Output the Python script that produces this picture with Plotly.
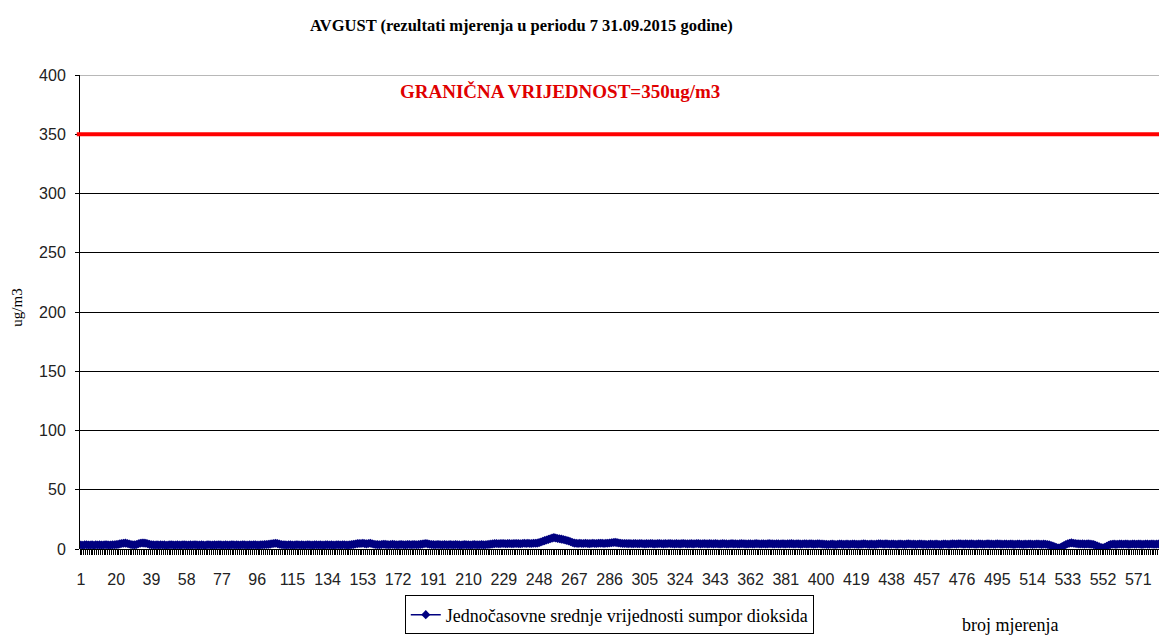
import plotly.graph_objects as go

title_text = "AVGUST (rezultati mjerenja u periodu 7 31.09.2015 godine)"
series_name = "Jednočasovne srednje vrijednosti sumpor dioksida"
limit_value = 350
limit_label = "GRANIČNA VRIJEDNOST=350ug/m3"
y_title = "ug/m3"
x_title = "broj mjerenja"

so2_values = [
    3.4, 3.2, 3.5, 3.6, 3.3, 3.4, 3.5, 3.2, 3.6, 3.4, 3.5, 3.3, 3.4, 3.6, 3.5, 3.3, 3.4, 3.5, 3.6, 3.7,
    3.9, 4.3, 4.6, 4.8, 5.0, 4.7, 4.2, 3.8, 3.6, 3.5, 3.8, 4.4, 4.9, 5.1, 5.0, 4.8, 4.4, 3.9, 3.6, 3.5,
    3.4, 3.5, 3.3, 3.6, 3.4, 3.5, 3.2, 3.4, 3.5, 3.6, 3.3, 3.4, 3.5, 3.4, 3.3, 3.6, 3.5, 3.4, 3.3, 3.5,
    3.4, 3.6, 3.5, 3.3, 3.4, 3.5, 3.4, 3.2, 3.5, 3.6, 3.4, 3.3, 3.5, 3.4, 3.6, 3.5, 3.3, 3.4, 3.5, 3.4,
    3.3, 3.5, 3.6, 3.4, 3.5, 3.3, 3.4, 3.6, 3.5, 3.4, 3.3, 3.5, 3.4, 3.6, 3.5, 3.4, 3.3, 3.5, 3.6, 3.7,
    3.8, 3.9, 4.1, 4.4, 4.6, 4.8, 4.5, 4.1, 3.8, 3.6, 3.5, 3.4, 3.6, 3.5, 3.3, 3.4, 3.5, 3.6, 3.4, 3.5,
    3.3, 3.4, 3.6, 3.5, 3.4, 3.3, 3.5, 3.6, 3.4, 3.5, 3.4, 3.3, 3.5, 3.6, 3.4, 3.5, 3.3, 3.4, 3.6, 3.5,
    3.4, 3.5, 3.6, 3.4, 3.3, 3.5, 3.7, 3.9, 4.2, 4.5, 4.7, 4.6, 4.8, 4.5, 4.3, 4.6, 4.8, 4.4, 4.0, 3.8,
    3.7, 3.6, 3.8, 4.0, 3.9, 3.7, 3.6, 3.8, 3.9, 3.7, 3.6, 3.5, 3.7, 3.8, 3.6, 3.5, 3.7, 3.8, 3.6, 3.7,
    3.8, 3.6, 3.7, 3.9, 4.1, 4.4, 4.6, 4.3, 4.0, 3.8, 3.7, 3.6, 3.8, 3.7, 3.6, 3.5, 3.7, 3.6, 3.5, 3.7,
    3.6, 3.5, 3.7, 3.6, 3.5, 3.4, 3.6, 3.7, 3.5, 3.6, 3.4, 3.5, 3.7, 3.6, 3.5, 3.6, 3.7, 3.5, 3.6, 3.8,
    3.9, 4.1, 4.3, 4.5, 4.6, 4.4, 4.5, 4.7, 4.6, 4.4, 4.5, 4.6, 4.4, 4.5, 4.7, 4.6, 4.5, 4.4, 4.6, 4.8,
    4.7, 4.8, 4.6, 4.7, 4.9, 4.8, 5.0, 5.4, 5.9, 6.5, 7.1, 7.6, 8.1, 8.6, 9.2, 9.6, 9.3, 8.9, 8.6, 8.3,
    8.0, 7.6, 7.2, 6.7, 6.1, 5.5, 5.0, 4.8, 4.7, 4.8, 4.6, 4.7, 4.8, 4.6, 4.5, 4.7, 4.8, 4.6, 4.7, 4.9,
    4.8, 4.9, 4.7, 4.8, 4.9, 5.1, 5.3, 5.5, 5.6, 5.4, 5.1, 4.9, 4.7, 4.6, 4.7, 4.5, 4.6, 4.4, 4.5, 4.6,
    4.4, 4.5, 4.6, 4.4, 4.3, 4.5, 4.4, 4.6, 4.5, 4.3, 4.4, 4.5, 4.6, 4.4, 4.3, 4.5, 4.4, 4.6, 4.5, 4.4,
    4.3, 4.5, 4.4, 4.3, 4.5, 4.6, 4.4, 4.3, 4.4, 4.5, 4.3, 4.4, 4.6, 4.5, 4.3, 4.4, 4.5, 4.4, 4.3, 4.5,
    4.4, 4.3, 4.5, 4.4, 4.2, 4.3, 4.5, 4.4, 4.3, 4.2, 4.4, 4.5, 4.3, 4.4, 4.2, 4.3, 4.5, 4.4, 4.3, 4.2,
    4.3, 4.4, 4.2, 4.3, 4.5, 4.4, 4.2, 4.3, 4.4, 4.2, 4.3, 4.5, 4.4, 4.3, 4.2, 4.4, 4.3, 4.2, 4.4, 4.3,
    4.2, 4.4, 4.3, 4.5, 4.3, 4.2, 4.4, 4.3, 4.1, 4.2, 4.4, 4.3, 4.2, 4.4, 4.3, 4.1, 4.2, 4.3, 4.4, 4.2,
    4.1, 4.0, 3.9, 3.8, 4.0, 4.1, 3.9, 3.8, 4.0, 4.2, 4.1, 3.9, 4.0, 4.1, 3.9, 4.0, 4.2, 4.1, 4.0, 3.9,
    4.0, 4.1, 4.3, 4.2, 4.0, 3.9, 4.1, 4.0, 3.9, 4.1, 4.3, 4.4, 4.2, 4.1, 4.3, 4.2, 4.0, 4.1, 4.2, 4.0,
    3.9, 4.1, 4.2, 4.0, 3.9, 4.1, 4.3, 4.2, 4.0, 4.1, 3.9, 4.0, 4.2, 4.1, 3.9, 4.0, 3.8, 3.9, 4.1, 4.0,
    3.9, 4.1, 4.0, 3.8, 3.9, 4.1, 4.2, 4.0, 3.9, 4.1, 4.3, 4.2, 4.1, 4.3, 4.4, 4.2, 4.1, 4.3, 4.2, 4.1,
    4.3, 4.2, 4.0, 4.1, 4.3, 4.2, 4.1, 4.0, 4.2, 4.3, 4.1, 4.2, 4.0, 4.1, 4.3, 4.2, 4.1, 4.0, 4.2, 4.1,
    4.0, 4.2, 4.1, 3.9, 4.0, 4.2, 4.1, 4.0, 3.9, 4.1, 4.0, 4.2, 4.1, 3.9, 4.0, 4.1, 4.2, 4.0, 3.9, 4.1,
    4.0, 3.8, 3.5, 3.0, 2.4, 1.8, 1.2, 0.9, 1.3, 2.0, 2.9, 3.8, 4.4, 4.8, 5.2, 4.9, 4.6, 4.4, 4.3, 4.2,
    4.3, 4.1, 4.2, 4.3, 4.1, 4.0, 3.7, 3.2, 2.5, 1.8, 1.2, 1.0, 1.5, 2.3, 3.1, 3.7, 4.0, 4.1, 3.9, 4.0,
    4.2, 4.1, 4.0, 4.2, 4.1, 3.9, 4.0, 4.2, 4.1, 4.0, 4.2, 4.1, 3.9, 4.0, 4.2, 4.1, 4.0, 4.2, 4.1, 4.0,
    4.1, 4.2,
]
measurement_no = list(range(1, len(so2_values) + 1))
x_tick_labels = list(range(1, len(so2_values) + 1, 19))
y_ticks = [0, 50, 100, 150, 200, 250, 300, 350, 400]

fig = go.Figure()

fig.add_trace(go.Scatter(
    x=measurement_no, y=so2_values, mode="lines+markers", name=series_name,
    line=dict(color="#000080", width=1.5),
    marker=dict(symbol="diamond", size=7, color="#000080"),
    cliponaxis=True,
))

# limit line
fig.add_shape(type="line", xref="paper", yref="y", x0=-0.003, x1=1, y0=limit_value, y1=limit_value,
              line=dict(color="#ff0000", width=4), layer="above")
# top border line (gray)
fig.add_shape(type="line", xref="paper", yref="y", x0=0, x1=1, y0=400, y1=400,
              line=dict(color="#a0a0a0", width=1.5), layer="below")

serif = "Liberation Serif, Times New Roman, serif"
sans = "Liberation Sans, Arial, sans-serif"

fig.add_annotation(text=f"<b>{limit_label}</b>", xref="paper", yref="paper", x=0.445, y=0.966,
                   xanchor="center", yanchor="middle",
                   showarrow=False, font=dict(family=serif, size=19, color="#e00000"))
fig.add_annotation(text=f"<b>{title_text}</b>", xref="paper", yref="paper", x=0.409, y=1.105,
                   xanchor="center", yanchor="middle",
                   showarrow=False, font=dict(family=serif, size=16.5, color="#000000"))
fig.add_annotation(text=y_title, xref="paper", yref="paper", x=-0.058, y=0.51, textangle=-90,
                   xanchor="center", yanchor="middle",
                   showarrow=False, font=dict(family=serif, size=15, color="#000000"))
fig.add_annotation(text=x_title, xref="paper", yref="paper", x=0.862, y=-0.16,
                   xanchor="center", yanchor="middle",
                   showarrow=False, font=dict(family=serif, size=18, color="#000000"))

fig.update_layout(
    width=1159, height=636,
    margin=dict(l=80, r=0, t=75, b=87, autoexpand=False),
    paper_bgcolor="white", plot_bgcolor="white",
    showlegend=True,
    legend=dict(x=0.301, y=-0.098, xanchor="left", yanchor="top",
                bordercolor="#000000", borderwidth=1, bgcolor="white",
                font=dict(family=serif, size=18, color="#000000"),
                itemwidth=30, tracegroupgap=0),
    xaxis=dict(
        range=[0.5, 582.2], tickmode="array", tickvals=x_tick_labels,
        ticktext=[str(v) for v in x_tick_labels], automargin=False,
        ticks="outside", ticklen=16, tickcolor="rgba(0,0,0,0)",
        showgrid=False, zeroline=False, showline=False,
        tickfont=dict(family=sans, size=16, color="#222222"),
        minor=dict(tickmode="linear", tick0=0.5, dtick=1, ticks="outside", ticklen=5,
                   tickcolor="#000000", tickwidth=1, showgrid=False),
    ),
    yaxis=dict(
        range=[0, 400], tickmode="array", tickvals=y_ticks, automargin=False,
        ticks="outside", ticklen=4, tickcolor="#000000",
        showgrid=True, gridcolor="#000000", gridwidth=1,
        zeroline=True, zerolinecolor="#000000", zerolinewidth=1,
        showline=True, linecolor="#000000", linewidth=1,
        ticklabelstandoff=6,
        tickfont=dict(family=sans, size=16, color="#222222"),
    ),
)

fig.write_html("out.html", config={"displayModeBar": False},
               post_script="document.body.style.margin='0';document.body.style.overflow='hidden';")
